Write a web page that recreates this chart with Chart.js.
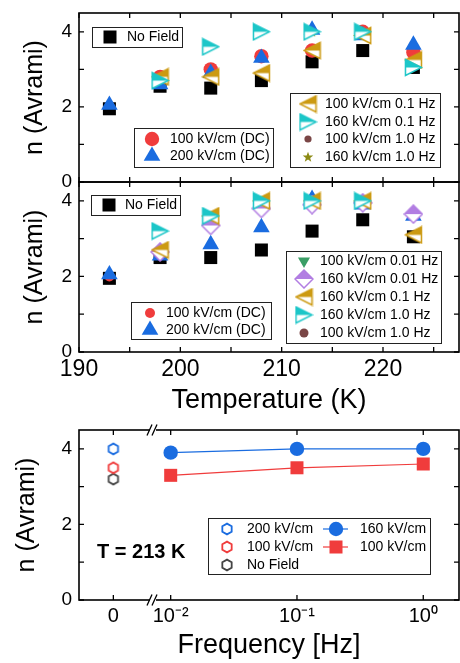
<!DOCTYPE html>
<html>
<head>
<meta charset="utf-8">
<script src="https://cdn.jsdelivr.net/npm/chart.js@4.4.1/dist/chart.umd.min.js"></script>
<style>
  body { margin: 0; background: #fff; }
  #wrap { position: relative; width: 460px; height: 663px; background: #fff; overflow: hidden; }
  canvas { position: absolute; left: 0; }
</style>
</head>
<body>
<div id="wrap">
  <canvas id="chartA" width="460" height="196" style="top:0px"></canvas>
  <canvas id="chartB" width="460" height="250" style="top:170px"></canvas>
  <canvas id="chartC" width="460" height="248" style="top:415px"></canvas>
</div>
<script>
// ---------------- Data ----------------
const temps = [193, 198, 203, 208, 213, 218, 223];
const tempTickLabels = [190, 200, 210, 220];
const tempMinorTicks = [195, 205, 215, 225];
const nTickLabels = [0, 2, 4];
const nMinorTicks = [1, 3];

// panel (a)
const aNoField   = [1.95, 2.55, 2.5, 2.7, 3.2, 3.5, 3.05];
const aDC100     = [null, 2.8, 3.0, 3.35, 3.5, 4.0, 3.45];
const aDC200     = [2.05, 2.6, 2.9, 3.3, 4.05, 3.9, 3.65];
const a100At01Hz = [null, 2.8, 2.8, 2.9, 3.5, 3.9, 3.25];
const a160At01Hz = [null, 2.7, 3.6, 4.0, 4.0, 4.0, 3.05];
const a100At1Hz  = [null, null, null, null, 3.5, 4.0, null];
const a160At1Hz  = [null, null, null, null, 4.0, 4.0, null];

// panel (b)
const bNoField    = [1.95, 2.5, 2.5, 2.7, 3.2, 3.5, 3.05];
const bDC100      = [2.0, 2.55, null, null, null, null, null];
const bDC200      = [2.05, 2.55, 2.85, 3.3, 4.05, 3.9, 3.6];
const b100At001Hz = [null, null, null, 4.0, 4.0, null, null];
const b160At001Hz = [null, 2.65, 3.35, 3.8, 3.9, 3.95, 3.65];
const b160At01Hz  = [null, 2.7, 3.6, 4.0, 4.0, 4.0, 3.1];
const b160At1Hz   = [null, 3.2, 3.6, 4.0, 4.0, 4.0, null];
const b100At1Hz   = [null, null, null, null, 4.0, 4.0, null];

// panel (c), T = 213 K
const freqs = [0.01, 0.1, 1];
const c160 = [3.9, 4.0, 4.0];
const c100 = [3.3, 3.5, 3.6];
const cZero200 = [4.0];
const cZero100 = [3.5];
const cZeroNoField = [3.2];
const cTickFreqs = [0, 0.01, 0.1, 1];
const cTickLabels = ['0', '10\u207B\u00B2', '10\u207B\u00B9', '10\u2070'];

// broken frequency axis: f = 0 sits left of the break, others on log10
const ZERO_POS = -2.454;
const BREAK_POS = -2.14;
const freqToX = f => f === 0 ? ZERO_POS : Math.log10(f);


// ---------------- Colours / markers ----------------
const RED = '#f03c3c', BLUE = '#1a6ce0', GOLD = '#cc9a12', CYAN = '#1cc6c8',
      PURPLE = '#b27ee2', GREEN = '#3a9e66', BROWN = '#7a4646', OLIVE = '#8c8a14';

Chart.defaults.font.family = "'Liberation Sans', Arial, sans-serif";
Chart.defaults.color = '#000';

function markerCanvas(w, h, draw) {
    const c = document.createElement('canvas');
    c.width = w; c.height = h;
    draw(c.getContext('2d'));
    return c;
}

function halfFilled(path, color, w, h) {
    return markerCanvas(w, h, g => {
        path(g); g.fillStyle = '#fff'; g.fill();
        g.save();
        g.beginPath(); g.rect(0, 0, w, h / 2); g.clip();
        path(g); g.fillStyle = color; g.fill();
        g.restore();
        path(g); g.strokeStyle = color; g.lineWidth = 1.5; g.stroke();
    });
}

const triLeft = g => { g.beginPath(); g.moveTo(1.5, 9.5); g.lineTo(17.5, 1.5); g.lineTo(17.5, 17.5); g.closePath(); };
const triRight = g => { g.beginPath(); g.moveTo(17.5, 9.5); g.lineTo(1.5, 1.5); g.lineTo(1.5, 17.5); g.closePath(); };
const diamond = g => { g.beginPath(); g.moveTo(10, 1); g.lineTo(19, 10); g.lineTo(10, 19); g.lineTo(1, 10); g.closePath(); };

function hexagon(color) {
    return markerCanvas(14, 14, g => {
        g.beginPath();
        for (let k = 0; k < 6; k++) {
            const a = -Math.PI / 2 + k * Math.PI / 3;
            const px = 7 + 5.4 * Math.cos(a), py = 7 + 5.4 * Math.sin(a);
            k ? g.lineTo(px, py) : g.moveTo(px, py);
        }
        g.closePath();
        g.fillStyle = '#fff'; g.fill();
        g.strokeStyle = color; g.lineWidth = 1.8; g.stroke();
    });
}

function star(color) {
    return markerCanvas(12, 12, g => {
        g.beginPath();
        for (let k = 0; k < 10; k++) {
            const a = -Math.PI / 2 + k * Math.PI / 5;
            const r = k % 2 ? 2.3 : 5.5;
            const px = 6 + r * Math.cos(a), py = 6.3 + r * Math.sin(a);
            k ? g.lineTo(px, py) : g.moveTo(px, py);
        }
        g.closePath();
        g.fillStyle = color; g.fill();
    });
}

const goldLeft = halfFilled(triLeft, GOLD, 19, 19);
const cyanRight = halfFilled(triRight, CYAN, 19, 19);
const purpleDiamond = halfFilled(diamond, PURPLE, 20, 20);

const mSquare = { pointStyle: 'rect', pointRadius: 9.2, pointBackgroundColor: '#000', pointBorderColor: '#000', pointBorderWidth: 0 };
const mRedBig = { pointStyle: 'circle', pointRadius: 7.2, pointBackgroundColor: RED, pointBorderColor: RED, pointBorderWidth: 0 };
const mRedSmall = { pointStyle: 'circle', pointRadius: 5, pointBackgroundColor: RED, pointBorderColor: RED, pointBorderWidth: 0 };
const mBlueTri = { pointStyle: 'triangle', pointRadius: 9.6, pointBackgroundColor: BLUE, pointBorderColor: BLUE, pointBorderWidth: 0 };
const mGold = { pointStyle: goldLeft, pointRadius: 8 };
const mCyan = { pointStyle: cyanRight, pointRadius: 8 };
const mPurple = { pointStyle: purpleDiamond, pointRadius: 8 };
const mGreen = { pointStyle: 'triangle', pointRotation: 180, pointRadius: 7, pointBackgroundColor: GREEN, pointBorderColor: GREEN, pointBorderWidth: 0 };
const mBrownSmall = { pointStyle: 'circle', pointRadius: 3.6, pointBackgroundColor: BROWN, pointBorderColor: BROWN, pointBorderWidth: 0 };
const mBrown = { pointStyle: 'circle', pointRadius: 4.5, pointBackgroundColor: BROWN, pointBorderColor: BROWN, pointBorderWidth: 0 };
const mStar = { pointStyle: star(OLIVE), pointRadius: 6 };


// ---------------- Plugins ----------------
const framePlugin = {
    id: 'frame',
    afterDatasetsDraw(chart, args, opts) {
        const { ctx, chartArea: a, scales: { x, y } } = chart;
        ctx.save();
        ctx.strokeStyle = '#000';
        ctx.lineWidth = 1.6;
        ctx.strokeRect(a.left, a.top, a.right - a.left, a.bottom - a.top);
        ctx.lineWidth = 1.3;
        ctx.beginPath();
        opts.xTicks.forEach(v => {
            const px = x.getPixelForValue(v);
            ctx.moveTo(px, a.bottom); ctx.lineTo(px, a.bottom - 5);
            ctx.moveTo(px, a.top); ctx.lineTo(px, a.top + 5);
        });
        opts.yTicks.forEach(v => {
            const py = y.getPixelForValue(v);
            ctx.moveTo(a.left, py); ctx.lineTo(a.left + 5, py);
            ctx.moveTo(a.right, py); ctx.lineTo(a.right - 5, py);
        });
        ctx.stroke();

        if (opts.breakAt !== undefined) {
            const bx = x.getPixelForValue(opts.breakAt);
            [a.top, a.bottom].forEach(yy => {
                ctx.fillStyle = '#fff';
                ctx.fillRect(bx - 3, yy - 2, 6, 4);
                ctx.beginPath();
                ctx.moveTo(bx - 6, yy + 5.5); ctx.lineTo(bx - 1, yy - 5.5);
                ctx.moveTo(bx - 1, yy + 5.5); ctx.lineTo(bx + 4, yy - 5.5);
                ctx.lineWidth = 1.3;
                ctx.stroke();
            });
        }
        ctx.restore();
    }
};

const boxLegend = {
    id: 'boxLegend',
    afterDraw(chart, args, opts) {
        const ctx = chart.ctx;
        const dy = opts.offsetY || 0;
        ctx.save();
        (opts.boxes || []).forEach(b => {
            ctx.fillStyle = '#fff';
            ctx.fillRect(b.x1, b.y1 - dy, b.x2 - b.x1, b.y2 - b.y1);
            ctx.strokeStyle = '#222';
            ctx.lineWidth = 1;
            ctx.strokeRect(Math.round(b.x1) + 0.5, Math.round(b.y1 - dy) + 0.5, Math.round(b.x2 - b.x1), Math.round(b.y2 - b.y1));

            b.rows.forEach(r => {
                const ds = chart.data.datasets[r.ds];
                const y = r.y - dy;
                if (r.line) {
                    ctx.beginPath();
                    ctx.moveTo(r.line[0], y); ctx.lineTo(r.line[1], y);
                    ctx.strokeStyle = ds.borderColor; ctx.lineWidth = ds.borderWidth;
                    ctx.stroke();
                }
                ctx.fillStyle = ds.pointBackgroundColor || '#000';
                ctx.strokeStyle = ds.pointBorderColor || '#000';
                ctx.lineWidth = ds.pointBorderWidth || 0;
                Chart.helpers.drawPoint(ctx, {
                    pointStyle: ds.pointStyle,
                    radius: ds.pointRadius,
                    rotation: ds.pointRotation || 0,
                    borderWidth: ds.pointBorderWidth || 0
                }, r.mx, y);
                ctx.fillStyle = '#000';
                ctx.font = "14px 'Liberation Sans', Arial, sans-serif";
                ctx.textAlign = 'left';
                ctx.textBaseline = 'middle';
                ctx.fillText(ds.label, r.tx, y);
            });
        });
        (opts.texts || []).forEach(t => {
            ctx.fillStyle = '#000';
            ctx.font = t.font;
            ctx.textAlign = 'left';
            ctx.textBaseline = 'middle';
            ctx.fillText(t.text, t.x, t.y - dy);
        });
        ctx.restore();
    }
};


// ---------------- Helpers ----------------
function tSeries(label, ys, style, order) {
    const data = [];
    temps.forEach((t, i) => { if (ys[i] !== null) data.push({ x: t, y: ys[i] }); });
    return { label, data, showLine: false, order, ...style };
}

function yAxis(titlePad) {
    return {
        min: 0, max: 4.5,
        afterBuildTicks: s => { s.ticks = nTickLabels.map(v => ({ value: v })); },
        ticks: { padding: 7, font: { size: 19 }, color: '#000' },
        grid: { display: false, drawTicks: false },
        border: { display: false },
        title: { display: true, text: 'n (Avrami)', font: { size: 25 }, color: '#000', padding: { top: titlePad, bottom: 0 } },
        afterFit: s => { s.width = 79; s.paddingTop = 0; s.paddingBottom = 0; }
    };
}

function tempAxis(showLabels, height) {
    return {
        type: 'linear', min: 190, max: 227.5,
        afterBuildTicks: s => { s.ticks = tempTickLabels.map(v => ({ value: v })); },
        ticks: { display: showLabels, padding: 4, font: { size: 23 }, color: '#000', maxRotation: 0, autoSkip: false },
        grid: { display: false, drawTicks: false },
        border: { display: false },
        title: { display: showLabels, text: 'Temperature (K)', font: { size: 27 }, color: '#000', padding: { top: 0, bottom: 3 } },
        afterFit: s => { s.height = height; }
    };
}

const common = {
    responsive: false,
    animation: false,
    events: []
};


// ---------------- Panel (a) ----------------
new Chart(document.getElementById('chartA'), {
    type: 'scatter',
    data: {
        datasets: [
            tSeries('No Field', aNoField, mSquare, 7),
            tSeries('100 kV/cm (DC)', aDC100, mRedBig, 6),
            tSeries('200 kV/cm (DC)', aDC200, mBlueTri, 5),
            tSeries('100 kV/cm 0.1 Hz', a100At01Hz, mGold, 2),
            tSeries('160 kV/cm 0.1 Hz', a160At01Hz, mCyan, 1),
            tSeries('100 kV/cm 1.0 Hz', a100At1Hz, mBrownSmall, 4),
            tSeries('160 kV/cm 1.0 Hz', a160At1Hz, mStar, 3)
        ]
    },
    options: {
        ...common,
        layout: { autoPadding: false, padding: { left: 0, right: 1, top: 13, bottom: 0 } },
        scales: { x: tempAxis(false, 14), y: yAxis(20) },
        plugins: {
            legend: { display: false },
            tooltip: { enabled: false },
            frame: { xTicks: tempTickLabels.concat(tempMinorTicks), yTicks: nTickLabels.concat(nMinorTicks) },
            boxLegend: {
                offsetY: 0,
                boxes: [
                    { x1: 92, y1: 27, x2: 182, y2: 47, rows: [{ ds: 0, y: 37, mx: 110, tx: 127 }] },
                    { x1: 134, y1: 128, x2: 273, y2: 167, rows: [
                        { ds: 1, y: 139, mx: 152, tx: 170 },
                        { ds: 2, y: 156, mx: 152, tx: 170 }
                    ] },
                    { x1: 290, y1: 93, x2: 440, y2: 167, rows: [
                        { ds: 3, y: 104, mx: 308, tx: 325 },
                        { ds: 4, y: 122, mx: 308, tx: 325 },
                        { ds: 5, y: 139, mx: 308, tx: 325 },
                        { ds: 6, y: 157, mx: 308, tx: 325 }
                    ] }
                ]
            }
        }
    },
    plugins: [framePlugin, boxLegend]
});


// ---------------- Panel (b) ----------------
new Chart(document.getElementById('chartB'), {
    type: 'scatter',
    data: {
        datasets: [
            tSeries('No Field', bNoField, mSquare, 8),
            tSeries('100 kV/cm (DC)', bDC100, mRedSmall, 7),
            tSeries('200 kV/cm (DC)', bDC200, mBlueTri, 6),
            tSeries('100 kV/cm 0.01 Hz', b100At001Hz, mGreen, 4),
            tSeries('160 kV/cm 0.01 Hz', b160At001Hz, mPurple, 3),
            tSeries('160 kV/cm 0.1 Hz', b160At01Hz, mGold, 2),
            tSeries('160 kV/cm 1.0 Hz', b160At1Hz, mCyan, 1),
            tSeries('100 kV/cm 1.0 Hz', b100At1Hz, mBrown, 5)
        ]
    },
    options: {
        ...common,
        layout: { autoPadding: false, padding: { left: 0, right: 1, top: 12, bottom: 0 } },
        scales: { x: tempAxis(true, 68), y: yAxis(20) },
        plugins: {
            legend: { display: false },
            tooltip: { enabled: false },
            frame: { xTicks: tempTickLabels.concat(tempMinorTicks), yTicks: nTickLabels.concat(nMinorTicks) },
            boxLegend: {
                offsetY: 170,
                boxes: [
                    { x1: 91, y1: 195, x2: 180, y2: 215, rows: [{ ds: 0, y: 205, mx: 109, tx: 125 }] },
                    { x1: 131, y1: 302, x2: 271, y2: 339, rows: [
                        { ds: 1, y: 313, mx: 150, tx: 166 },
                        { ds: 2, y: 330, mx: 150, tx: 166 }
                    ] },
                    { x1: 286, y1: 251, x2: 441, y2: 343, rows: [
                        { ds: 3, y: 261, mx: 304, tx: 320 },
                        { ds: 4, y: 279, mx: 304, tx: 320 },
                        { ds: 5, y: 297, mx: 304, tx: 320 },
                        { ds: 6, y: 315, mx: 304, tx: 320 },
                        { ds: 7, y: 333, mx: 304, tx: 320 }
                    ] }
                ]
            }
        }
    },
    plugins: [framePlugin, boxLegend]
});


// ---------------- Panel (c) ----------------
const cTickPos = cTickFreqs.map(freqToX);

new Chart(document.getElementById('chartC'), {
    type: 'scatter',
    data: {
        datasets: [
            { label: '200 kV/cm', data: cZero200.map(v => ({ x: freqToX(0), y: v })), showLine: false, order: 3, pointStyle: hexagon(BLUE), pointRadius: 6 },
            { label: '100 kV/cm', data: cZero100.map(v => ({ x: freqToX(0), y: v })), showLine: false, order: 4, pointStyle: hexagon(RED), pointRadius: 6 },
            { label: 'No Field', data: cZeroNoField.map(v => ({ x: freqToX(0), y: v })), showLine: false, order: 5, pointStyle: hexagon('#444'), pointRadius: 6 },
            {
                label: '160 kV/cm', data: freqs.map((f, i) => ({ x: freqToX(f), y: c160[i] })),
                showLine: true, order: 1, borderColor: BLUE, borderWidth: 1.2,
                pointStyle: 'circle', pointRadius: 7.2, pointBackgroundColor: BLUE, pointBorderColor: BLUE, pointBorderWidth: 0
            },
            {
                label: '100 kV/cm', data: freqs.map((f, i) => ({ x: freqToX(f), y: c100[i] })),
                showLine: true, order: 2, borderColor: RED, borderWidth: 1.2,
                pointStyle: 'rect', pointRadius: 9.2, pointBackgroundColor: RED, pointBorderColor: RED, pointBorderWidth: 0
            }
        ]
    },
    options: {
        ...common,
        layout: { autoPadding: false, padding: { left: 0, right: 1, top: 15, bottom: 0 } },
        scales: {
            x: {
                type: 'linear', min: -2.726, max: 0.283,
                afterBuildTicks: s => { s.ticks = cTickPos.map(v => ({ value: v })); },
                ticks: {
                    padding: 4, font: { size: 20 }, color: '#000', maxRotation: 0, autoSkip: false,
                    callback: (v, i) => cTickLabels[i]
                },
                grid: { display: false, drawTicks: false },
                border: { display: false },
                title: { display: true, text: 'Frequency [Hz]', font: { size: 27 }, color: '#000', padding: { top: 0, bottom: 1 } },
                afterFit: s => { s.height = 63; }
            },
            y: yAxis(12)
        },
        plugins: {
            legend: { display: false },
            tooltip: { enabled: false },
            frame: { xTicks: cTickPos, yTicks: nTickLabels.concat(nMinorTicks), breakAt: BREAK_POS },
            boxLegend: {
                offsetY: 415,
                boxes: [
                    { x1: 208, y1: 518, x2: 430, y2: 574, rows: [
                        { ds: 0, y: 529, mx: 227, tx: 247 },
                        { ds: 1, y: 547, mx: 227, tx: 247 },
                        { ds: 2, y: 565, mx: 227, tx: 247 },
                        { ds: 3, y: 529, mx: 336, tx: 360, line: [323, 348] },
                        { ds: 4, y: 547, mx: 336, tx: 360, line: [323, 348] }
                    ] }
                ],
                texts: [{ text: 'T = 213 K', x: 97, y: 552, font: "bold 20px 'Liberation Sans', Arial, sans-serif" }]
            }
        }
    },
    plugins: [framePlugin, boxLegend]
});
</script>
</body>
</html>
